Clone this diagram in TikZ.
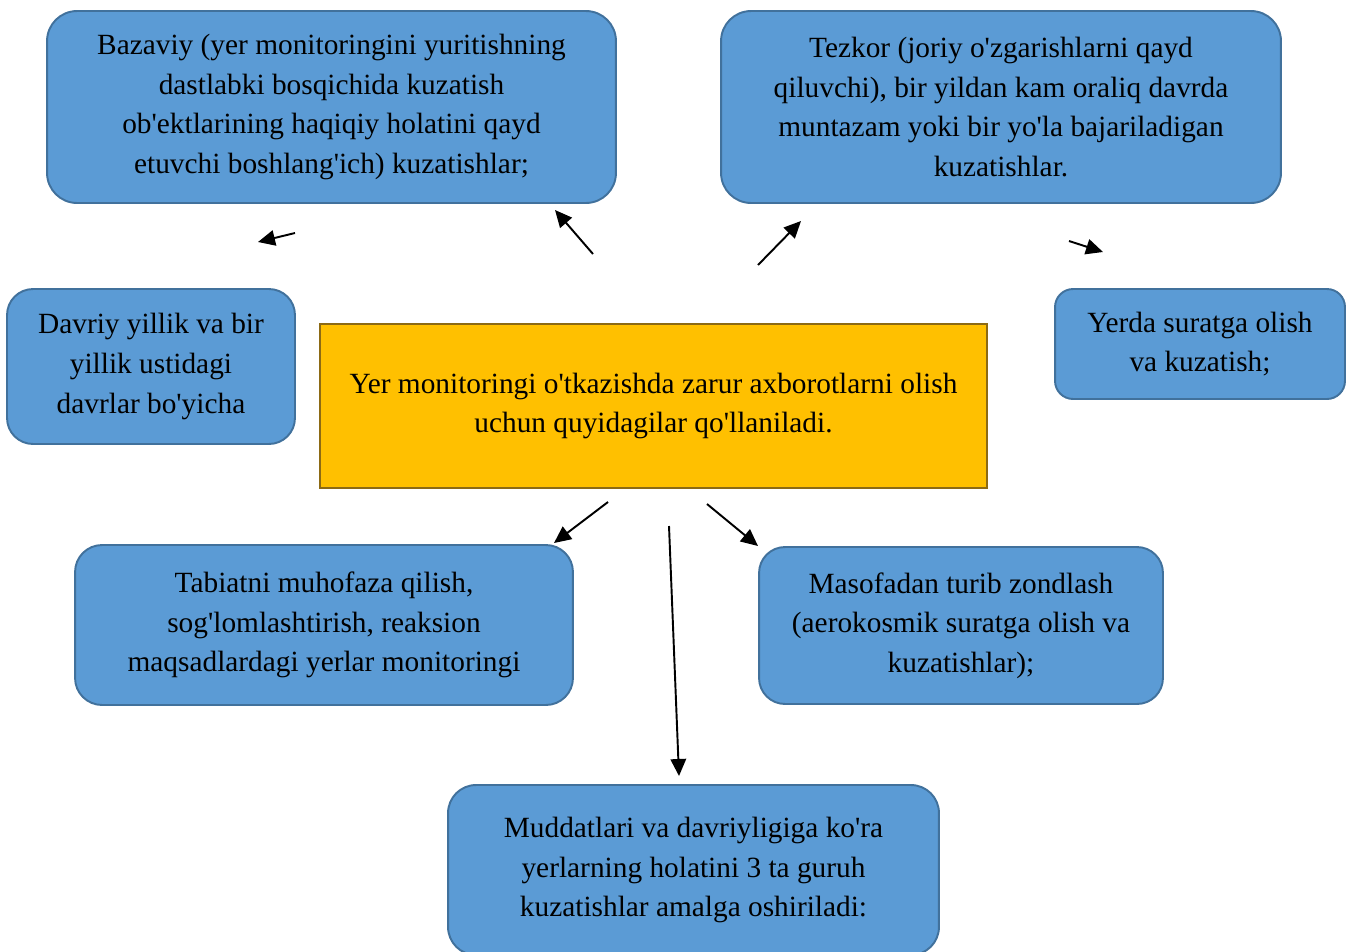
\documentclass[tikz,border=0pt]{standalone}
\usepackage{fontspec}
\setmainfont{Liberation Serif}[Ligatures=TeXOff]
\usetikzlibrary{positioning,arrows.meta}
\definecolor{boxblue}{HTML}{5B9BD5}
\definecolor{boxline}{HTML}{41719C}
\definecolor{hubgold}{HTML}{FFC000}
\definecolor{hubline}{HTML}{8C6A14}

\begin{document}
\begin{tikzpicture}[
  x=0.02cm, y=-0.02cm,
  >={Triangle[length=3.4mm,width=3.1mm]},
  bluebox/.style={
    draw=boxline,
    fill=boxblue,
    line width=1.1pt,
    rounded corners=0.6cm,
    align=center,
    font=\fontsize{16.7}{22.5}\selectfont
  },
  hubbox/.style={
    draw=hubline,
    fill=hubgold,
    line width=1pt,
    align=center,
    font=\fontsize{16.7}{22.5}\selectfont,
    minimum width=13.34cm,
    minimum height=3.28cm
  },
  edge/.style={->, line width=1.1pt}
]
\useasboundingbox (0,0) rectangle (1352,951);

\node[hubbox] (hub) at (653.5,406)
  {Yer monitoringi o'tkazishda zarur axborotlarni olish\\uchun quyidagilar qo'llaniladi.};

\node[bluebox, minimum width=11.38cm, minimum height=3.84cm] (bazaviy) at (331.5,107)
  {Bazaviy (yer monitoringini yuritishning\\dastlabki bosqichida kuzatish\\ob'ektlarining haqiqiy holatini qayd\\etuvchi boshlang'ich) kuzatishlar;};
\node[bluebox, minimum width=11.2cm, minimum height=3.84cm] (tezkor) at (1001,107)
  {Tezkor (joriy o'zgarishlarni qayd\\qiluvchi), bir yildan kam oraliq davrda\\muntazam yoki bir yo'la bajariladigan\\kuzatishlar.};
\node[bluebox, rounded corners=0.52cm, minimum width=5.76cm, minimum height=3.1cm] (davriy) at (151,366.5)
  {Davriy yillik va bir\\yillik ustidagi\\davrlar bo'yicha};
\node[bluebox, rounded corners=0.36cm, minimum width=5.8cm, minimum height=2.2cm] (yerda) at (1200,344)
  {Yerda suratga olish\\va kuzatish;};
\node[bluebox, rounded corners=0.54cm, minimum width=9.96cm, minimum height=3.2cm] (tabiat) at (324,625)
  {Tabiatni muhofaza qilish,\\sog'lomlashtirish, reaksion\\maqsadlardagi yerlar monitoringi};
\node[bluebox, rounded corners=0.52cm, minimum width=8.08cm, minimum height=3.14cm] (masofa) at (961,625.5)
  {Masofadan turib zondlash\\(aerokosmik suratga olish va\\kuzatishlar);};
\node[bluebox, rounded corners=0.56cm, minimum width=9.82cm, minimum height=3.4cm] (muddat) at (693.5,870)
  {Muddatlari va davriyligiga ko'ra\\yerlarning holatini 3 ta guruh\\kuzatishlar amalga oshiriladi:};

% loose arrows
\coordinate (davriy-s) at (295,233);
\coordinate (davriy-e) at (258,242);
\coordinate (bazaviy-s) at (593,254);
\coordinate (bazaviy-e) at (555,210);
\coordinate (tezkor-s) at (758,265);
\coordinate (tezkor-e) at (801,221);
\coordinate (yerda-s) at (1069,241);
\coordinate (yerda-e) at (1103,252);
\coordinate (tabiat-s) at (608,502);
\coordinate (tabiat-e) at (554,543);
\coordinate (muddat-s) at (669,526);
\coordinate (muddat-e) at (679,776);
\coordinate (masofa-s) at (707,504);
\coordinate (masofa-e) at (758,546);

\draw[edge] (davriy-s) -- (davriy-e);
\draw[edge] (bazaviy-s) -- (bazaviy-e);
\draw[edge] (tezkor-s) -- (tezkor-e);
\draw[edge] (yerda-s) -- (yerda-e);
\draw[edge] (tabiat-s) -- (tabiat-e);
\draw[edge] (muddat-s) -- (muddat-e);
\draw[edge] (masofa-s) -- (masofa-e);
\end{tikzpicture}
\end{document}
